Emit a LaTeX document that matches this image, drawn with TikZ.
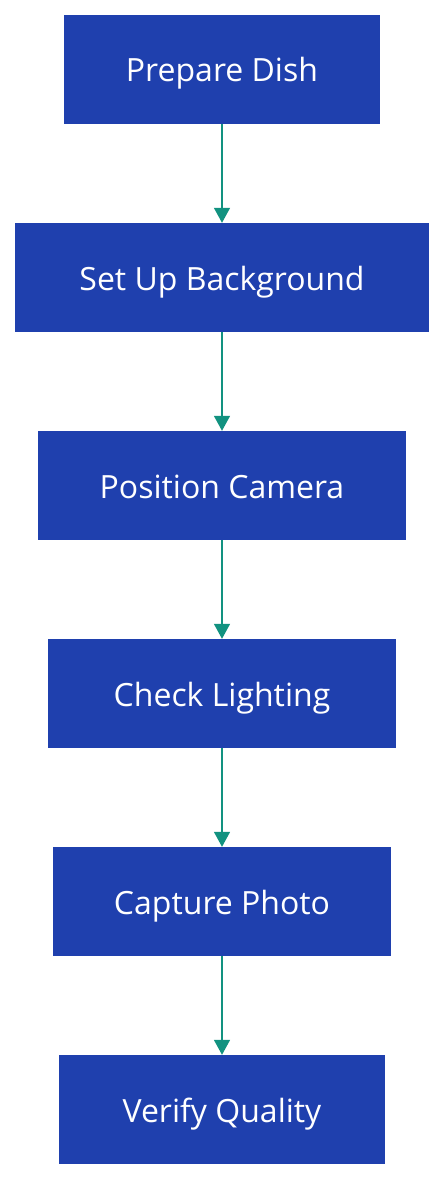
\documentclass[tikz,border=0pt]{standalone}
\usepackage{fontspec}
\setmainfont{Open Sans}
\usepackage{tikz}
\usetikzlibrary{arrows.meta}

\definecolor{stepblue}{RGB}{31,64,174}
\definecolor{flowteal}{RGB}{18,146,128}

\begin{document}
\begin{tikzpicture}[x=1pt,y=-1pt,
  stepbox/.style={fill=stepblue, text=white, minimum height=109pt, inner sep=0pt,
    text height=25pt, text depth=0pt, font=\fontsize{32}{38}\selectfont},
  flow/.style={draw=flowteal, line width=1.6pt, -{Triangle[length=15pt,width=16pt]}}]

% page frame
\useasboundingbox (0,0) rectangle (444,1180);

% steps
\node[stepbox, minimum width=316pt] (dish) at (222,69.5) {Prepare Dish};
\node[stepbox, minimum width=414pt] (backdrop) at (222,277.5) {Set Up Background};
\node[stepbox, minimum width=368pt] (camera) at (222,485.5) {Position Camera};
\node[stepbox, minimum width=348pt] (light) at (222,693.5) {Check Lighting};
\node[stepbox, minimum width=338pt] (photo) at (222,901.5) {Capture Photo};
\node[stepbox, minimum width=326pt] (quality) at (222,1109.5) {Verify Quality};

% arrows between steps
\draw[flow] (dish) -- (backdrop);
\draw[flow] (backdrop) -- (camera);
\draw[flow] (camera) -- (light);
\draw[flow] (light) -- (photo);
\draw[flow] (photo) -- (quality);

\end{tikzpicture}
\end{document}
